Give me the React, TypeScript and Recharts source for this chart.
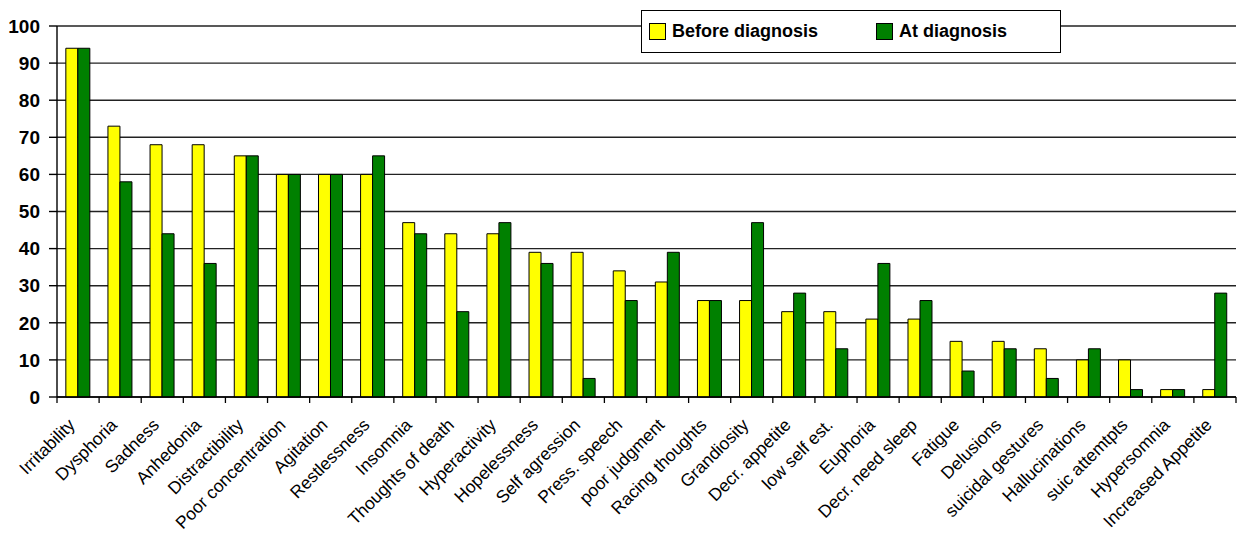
import React from 'react';
import { BarChart, Bar, XAxis, YAxis, CartesianGrid } from 'recharts';

const categories = [
  'Irritability', 'Dysphoria', 'Sadness', 'Anhedonia', 'Distractibility', 'Poor concentration',
  'Agitation', 'Restlessness', 'Insomnia', 'Thoughts of death', 'Hyperactivity', 'Hopelessness',
  'Self agression', 'Press. speech', 'poor judgment', 'Racing thoughts', 'Grandiosity',
  'Decr. appetite', 'low self est.', 'Euphoria', 'Decr. need sleep', 'Fatigue', 'Delusions',
  'suicidal gestures', 'Hallucinations', 'suic attemtpts', 'Hypersomnia', 'Increased Appetite',
];
const beforeDiagnosis = [94, 73, 68, 68, 65, 60, 60, 60, 47, 44, 44, 39, 39, 34, 31, 26, 26, 23, 23, 21, 21, 15, 15, 13, 10, 10, 2, 2];
const atDiagnosis = [94, 58, 44, 36, 65, 60, 60, 65, 44, 23, 47, 36, 5, 26, 39, 26, 47, 28, 13, 36, 26, 7, 13, 5, 13, 2, 2, 28];
const yTicks = [0, 10, 20, 30, 40, 50, 60, 70, 80, 90, 100];
const seriesNames = ['Before diagnosis', 'At diagnosis'];

const data = categories.map((name, i) => ({ name, before: beforeDiagnosis[i], at: atDiagnosis[i] }));

const W = 1241;
const H = 534;
const LEFT = 57;
const RIGHT_MARGIN = 5;
const BAND = (W - LEFT - RIGHT_MARGIN) / categories.length;
const FONT = '"Liberation Sans", Arial, sans-serif';
const YELLOW = '#ffff00';
const GREEN = '#008000';

const XTick = (props: any) => {
  const { x, y, payload, index } = props;
  const tx = x - 2;
  const ty = y + 29;
  return (
    <g>
      <line x1={x - BAND / 2} y1={y} x2={x - BAND / 2} y2={y + 6} stroke="#000" strokeWidth={1.3} />
      {index === categories.length - 1 && (
        <line x1={x + BAND / 2} y1={y} x2={x + BAND / 2} y2={y + 6} stroke="#000" strokeWidth={1.3} />
      )}
      <text
        x={tx}
        y={ty}
        transform={`rotate(-45, ${tx}, ${ty})`}
        textAnchor="end"
        fontSize={17.5}
        fontFamily={FONT}
        fill="#000"
      >
        {payload.value}
      </text>
    </g>
  );
};

// legend drawn as a plain box over the top gridline
const LegendBox = () => (
  <div
    style={{
      position: 'absolute',
      left: 641,
      top: 10,
      width: 418,
      height: 41,
      border: '1.5px solid #000',
      background: '#fff',
      display: 'flex',
      alignItems: 'center',
      fontFamily: FONT,
      fontWeight: 'bold',
      fontSize: 18,
      color: '#000',
    }}
  >
    <span style={{ width: 15, height: 15, background: YELLOW, border: '1px solid #000', marginLeft: 7 }} />
    <span style={{ marginLeft: 6 }}>{seriesNames[0]}</span>
    <span style={{ width: 15, height: 15, background: GREEN, border: '1px solid #000', marginLeft: 58 }} />
    <span style={{ marginLeft: 6 }}>{seriesNames[1]}</span>
  </div>
);

export default function App() {
  return (
    <div style={{ position: 'absolute', left: 0, top: 0, width: W, height: H, background: '#fff' }}>
      <BarChart
        width={W}
        height={H}
        data={data}
        margin={{ top: 26, right: RIGHT_MARGIN, left: 0, bottom: 0 }}
        barCategoryGap="21%"
        barGap={0}
      >
        <CartesianGrid vertical={false} stroke="#222" strokeWidth={1.4} />
        <XAxis
          dataKey="name"
          interval={0}
          height={137}
          tickSize={0}
          tickMargin={0}
          tickLine={false}
          axisLine={{ stroke: '#000', strokeWidth: 1.4 }}
          tick={<XTick />}
        />
        <YAxis
          width={LEFT}
          domain={[0, 100]}
          ticks={yTicks}
          tickSize={8}
          tickMargin={9}
          axisLine={{ stroke: '#000', strokeWidth: 1.4 }}
          tickLine={{ stroke: '#000', strokeWidth: 1.4 }}
          tick={{ fill: '#000', fontSize: 19, fontWeight: 'bold', fontFamily: FONT }}
        />
        <Bar dataKey="before" name={seriesNames[0]} fill={YELLOW} stroke="#000" strokeWidth={1} isAnimationActive={false} />
        <Bar dataKey="at" name={seriesNames[1]} fill={GREEN} stroke="#000" strokeWidth={1} isAnimationActive={false} />
      </BarChart>
      <LegendBox />
    </div>
  );
}
